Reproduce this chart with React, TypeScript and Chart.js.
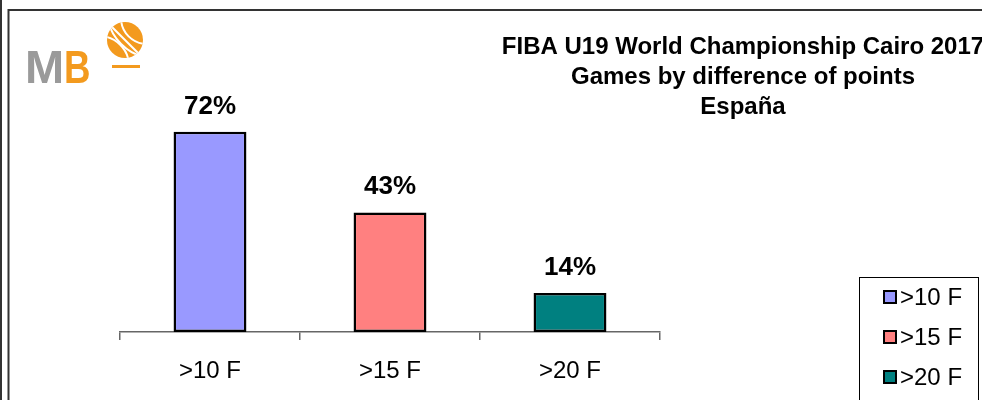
import React, { useEffect, useRef } from "react";
import { Chart, registerables } from "chart.js";

Chart.register(...registerables);

const CATEGORIES = [">10 F", ">15 F", ">20 F"];
const VALUES = [72, 43, 14];
const COLORS = ["#9999FF", "#FF8080", "#008080"];
const TITLE_LINES = [
  "FIBA U19 World Championship Cairo 2017",
  "Games by difference of points",
  "España",
];
const Y_MAX = 100;

const FONT = '"Liberation Sans", Arial, Helvetica, sans-serif';

const framePlugin = {
  id: "frame",
  beforeDraw(chart: any) {
    const { ctx, width, height } = chart;
    ctx.save();
    ctx.fillStyle = "#ffffff";
    ctx.fillRect(0, 0, width, height);
    ctx.strokeStyle = "#333333";
    ctx.lineWidth = 2;
    ctx.beginPath();
    ctx.moveTo(1, 0);
    ctx.lineTo(1, height);
    ctx.stroke();
    ctx.beginPath();
    ctx.moveTo(8.5, height + 5);
    ctx.lineTo(8.5, 10);
    ctx.lineTo(width + 5, 10);
    ctx.stroke();
    ctx.restore();
  },
};

const logoPlugin = {
  id: "logo",
  afterDraw(chart: any) {
    const { ctx } = chart;
    ctx.save();
    ctx.textBaseline = "alphabetic";
    ctx.textAlign = "left";
    ctx.font = `bold 47px ${FONT}`;
    ctx.fillStyle = "#9a9a9a";
    ctx.fillText("M", 25, 83);
    ctx.fillStyle = "#F39A1E";
    ctx.save();
    ctx.translate(64, 83);
    ctx.scale(0.78, 1);
    ctx.fillText("B", 0, 0);
    ctx.restore();
    // ball
    const cx = 125, cy = 40, r = 18;
    ctx.beginPath();
    ctx.arc(cx, cy, r, 0, Math.PI * 2);
    ctx.fill();
    ctx.strokeStyle = "#ffffff";
    ctx.lineWidth = 2;
    ctx.save();
    ctx.beginPath();
    ctx.arc(cx, cy, r, 0, Math.PI * 2);
    ctx.clip();
    ctx.beginPath();
    ctx.moveTo(cx - r, cy - r);
    ctx.lineTo(cx + r, cy + r);
    ctx.stroke();
    ctx.beginPath();
    ctx.arc(cx + 22, cy - 22, 26, 0, Math.PI * 2);
    ctx.stroke();
    ctx.beginPath();
    ctx.arc(cx + 30, cy - 30, 48, 0, Math.PI * 2);
    ctx.stroke();
    ctx.beginPath();
    ctx.arc(cx - 26, cy + 26, 30, 0, Math.PI * 2);
    ctx.stroke();
    ctx.restore();
    ctx.fillStyle = "#F39A1E";
    ctx.fillRect(112, 65, 28, 3);
    ctx.restore();
  },
};

const titlePlugin = {
  id: "customTitle",
  afterDraw(chart: any) {
    const { ctx } = chart;
    ctx.save();
    ctx.font = `bold 24px ${FONT}`;
    ctx.fillStyle = "#000000";
    ctx.textAlign = "center";
    ctx.textBaseline = "middle";
    const cx = 743;
    TITLE_LINES.forEach((line, i) => {
      ctx.fillText(line, cx, 47 + i * 30);
    });
    ctx.restore();
  },
};

const valueLabelPlugin = {
  id: "valueLabels",
  afterDatasetsDraw(chart: any) {
    const { ctx } = chart;
    const meta = chart.getDatasetMeta(0);
    ctx.save();
    ctx.font = `bold 26px ${FONT}`;
    ctx.fillStyle = "#000000";
    ctx.textAlign = "center";
    ctx.textBaseline = "alphabetic";
    meta.data.forEach((bar: any, i: number) => {
      const v = chart.data.datasets[0].data[i];
      ctx.fillText(`${v}%`, bar.x, bar.y - 18);
    });
    ctx.restore();
  },
};

const legendPlugin = {
  id: "customLegend",
  afterDraw(chart: any) {
    const { ctx } = chart;
    ctx.save();
    ctx.strokeStyle = "#000000";
    ctx.lineWidth = 1;
    ctx.fillStyle = "#ffffff";
    ctx.fillRect(859.5, 277.5, 119, 140);
    ctx.strokeRect(859.5, 277.5, 119, 140);
    ctx.font = `24px ${FONT}`;
    ctx.textAlign = "left";
    ctx.textBaseline = "middle";
    const labels = chart.data.labels as string[];
    const colors = chart.data.datasets[0].backgroundColor as string[];
    labels.forEach((lab, i) => {
      const y = 297 + i * 40;
      ctx.fillStyle = colors[i];
      ctx.fillRect(884, y - 6, 12, 12);
      ctx.lineWidth = 2;
      ctx.strokeStyle = "#000000";
      ctx.strokeRect(884, y - 6, 12, 12);
      ctx.fillStyle = "#000000";
      ctx.fillText(lab, 900, y + 1);
    });
    ctx.restore();
  },
};

export default function App() {
  const ref = useRef<HTMLCanvasElement | null>(null);
  useEffect(() => {
    if (!ref.current) return;
    const chart = new Chart(ref.current, {
      type: "bar",
      data: {
        labels: CATEGORIES,
        datasets: [
          {
            data: VALUES,
            backgroundColor: COLORS,
            borderColor: "#000000",
            borderWidth: 2.5,
            borderSkipped: false,
            barPercentage: 0.405,
            categoryPercentage: 1,
          },
        ],
      },
      options: {
        animation: false,
        responsive: false,
        devicePixelRatio: 1,
        layout: { padding: { left: 120, right: 322, top: 54, bottom: 0 } },
        plugins: {
          legend: { display: false },
          title: { display: false },
          tooltip: { enabled: false },
        },
        scales: {
          x: {
            grid: {
              display: true,
              drawOnChartArea: false,
              drawTicks: true,
              tickLength: 8,
              color: "#666666",
              lineWidth: 1.5,
              offset: true,
            },
            border: { display: true, color: "#666666", width: 1.5 },
            ticks: {
              color: "#000000",
              font: { family: FONT, size: 24 },
              padding: 17,
            },
            afterFit: (s: any) => {
              s.height = 68;
            },
          },
          y: {
            display: false,
            min: 0,
            max: Y_MAX,
          },
        },
      },
      plugins: [framePlugin, valueLabelPlugin, legendPlugin, titlePlugin, logoPlugin],
    });
    return () => chart.destroy();
  }, []);
  return (
    <div style={{ position: "fixed", left: 0, top: 0, width: 982, height: 400 }}>
      <canvas ref={ref} width={982} height={400} style={{ display: "block" }} />
    </div>
  );
}
